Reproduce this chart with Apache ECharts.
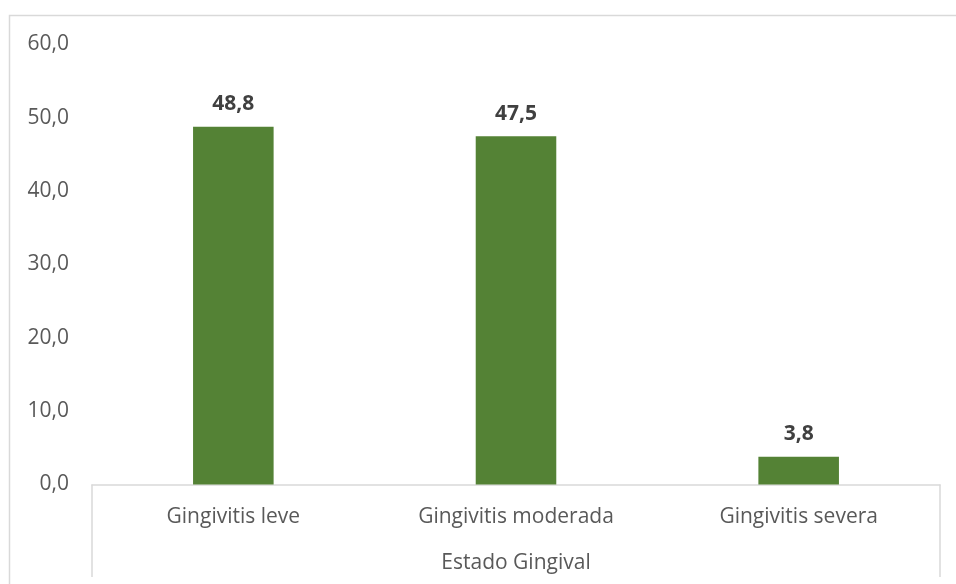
<!DOCTYPE html>
<html>
<head>
<meta charset="utf-8">
<script src="https://cdn.jsdelivr.net/npm/echarts@6/dist/echarts.min.js"></script>
<style>
  html, body { margin: 0; padding: 0; background: #fff; }
  #chart { width: 956px; height: 584px; }
</style>
</head>
<body>
<div id="chart"></div>
<script>
// datos del grafico
let categorias = ['Gingivitis leve', 'Gingivitis moderada', 'Gingivitis severa'];
let porcentajes = [48.8, 47.5, 3.8];
let ejeNombre = 'Estado Gingival';
let yMin = 0, yMax = 60, yPaso = 10;

// layout (px)
let W = 956, H = 584;
let gLeft = 92, gRight = 16, gTop = 44.5, gBottom = 99.5;
let fuente = '"Open Sans", "Noto Sans", sans-serif';

function coma(v) {
    return Number(v).toFixed(1).replace('.', ','); // formato decimal con coma
}

let chart = echarts.init(document.getElementById('chart'));

chart.setOption({
    animation: false,
    backgroundColor: '#ffffff',
    grid: { left: gLeft, right: gRight, top: gTop, bottom: gBottom },
    xAxis: {
        type: 'category',
        data: categorias,
        name: ejeNombre,
        nameLocation: 'middle',
        nameGap: 68,
        nameTextStyle: { color: '#595959', fontSize: 21, fontFamily: fuente },
        axisLine: { show: true, lineStyle: { color: '#d9d9d9', width: 1.5 } },
        axisTick: { show: false },
        axisLabel: { color: '#595959', fontSize: 21, fontFamily: fuente, margin: 22 }
    },
    yAxis: {
        type: 'value',
        min: yMin,
        max: yMax,
        interval: yPaso,
        axisLine: { show: false },
        axisTick: { show: false },
        splitLine: { show: false },
        axisLabel: {
            color: '#595959', fontSize: 21, fontFamily: fuente, margin: 23,
            formatter: coma
        }
    },
    series: [{
        type: 'bar',
        data: porcentajes,
        barWidth: '28.5%',
        itemStyle: { color: '#548235' },
        label: {
            show: true,
            position: 'top',
            distance: 12,
            color: '#404040',
            fontSize: 21,
            fontWeight: 'bold',
            fontFamily: fuente,
            formatter: p => coma(p.value)
        }
    }],
    graphic: [
        // borde del area del grafico
        {
            type: 'rect',
            shape: { x: 9.5, y: 15.5, width: W + 20, height: H + 20 },
            style: { fill: 'none', stroke: '#d9d9d9', lineWidth: 1.5 },
            silent: true
        },
        // lineas verticales del eje de categorias (multinivel)
        {
            type: 'line',
            shape: { x1: gLeft, y1: H - gBottom, x2: gLeft, y2: 577 },
            style: { stroke: '#d9d9d9', lineWidth: 1.5 },
            silent: true
        },
        {
            type: 'line',
            shape: { x1: W - gRight, y1: H - gBottom, x2: W - gRight, y2: 577 },
            style: { stroke: '#d9d9d9', lineWidth: 1.5 },
            silent: true
        }
    ]
});
</script>
</body>
</html>
